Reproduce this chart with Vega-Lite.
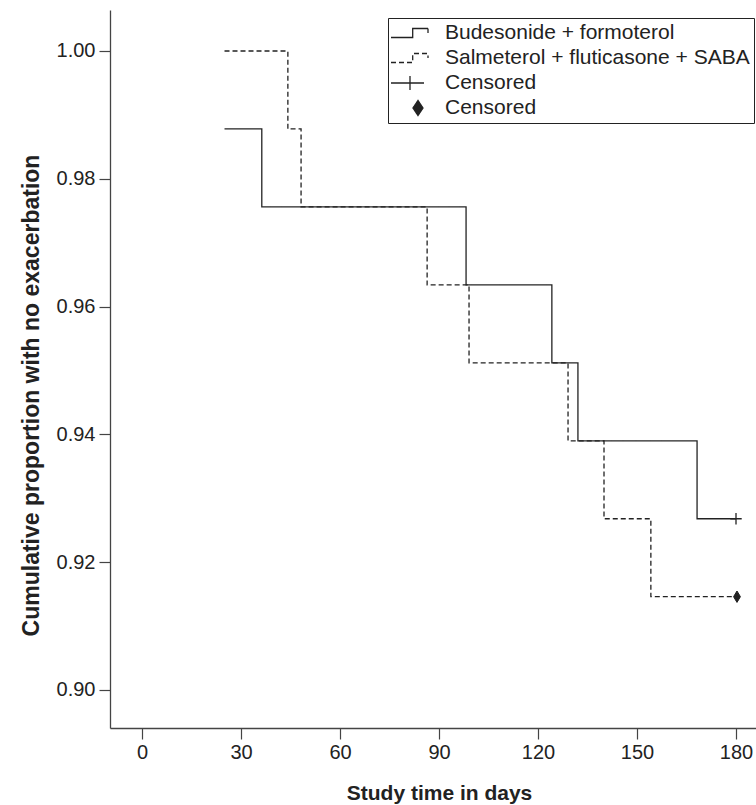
{
  "$schema": "https://vega.github.io/schema/vega-lite/v6.json",
  "width": 646,
  "height": 718,
  "autosize": {"type": "none"},
  "padding": {"left": 110, "top": 10, "right": 0, "bottom": 77},
  "background": "white",
  "datasets": {
    "km": [
      {"key": "Budesonide + formoterol", "day": 25, "surv": 0.9878},
      {"key": "Budesonide + formoterol", "day": 36.3, "surv": 0.9756},
      {"key": "Budesonide + formoterol", "day": 98.2, "surv": 0.9634},
      {"key": "Budesonide + formoterol", "day": 124.2, "surv": 0.9512},
      {"key": "Budesonide + formoterol", "day": 132.1, "surv": 0.939},
      {"key": "Budesonide + formoterol", "day": 168.2, "surv": 0.9268},
      {"key": "Budesonide + formoterol", "day": 180, "surv": 0.9268},
      {"key": "Salmeterol + fluticasone + SABA", "day": 25, "surv": 1.0},
      {"key": "Salmeterol + fluticasone + SABA", "day": 44.2, "surv": 0.9878},
      {"key": "Salmeterol + fluticasone + SABA", "day": 48.2, "surv": 0.9756},
      {"key": "Salmeterol + fluticasone + SABA", "day": 86.4, "surv": 0.9634},
      {"key": "Salmeterol + fluticasone + SABA", "day": 99.1, "surv": 0.9512},
      {"key": "Salmeterol + fluticasone + SABA", "day": 129.1, "surv": 0.939},
      {"key": "Salmeterol + fluticasone + SABA", "day": 140, "surv": 0.9268},
      {"key": "Salmeterol + fluticasone + SABA", "day": 154.2, "surv": 0.9146},
      {"key": "Salmeterol + fluticasone + SABA", "day": 180, "surv": 0.9146}
    ],
    "censor": [
      {"key": "Censored", "day": 180, "surv": 0.9268},
      {"key": "Censored ", "day": 180.3, "surv": 0.9146}
    ]
  },
  "config": {
    "view": {"stroke": null},
    "axis": {
      "grid": false,
      "domainColor": "#444",
      "domainWidth": 1.3,
      "tickColor": "#444",
      "tickWidth": 1.2,
      "tickSize": 11,
      "labelFont": "Liberation Sans",
      "labelFontSize": 20,
      "labelColor": "#222",
      "titleFont": "Liberation Sans",
      "titleFontSize": 21,
      "titleFontWeight": "bold",
      "titleColor": "#222"
    },
    "legend": {
      "strokeColor": "#222",
      "fillColor": "white",
      "padding": 4,
      "symbolSize": 400,
      "symbolStrokeWidth": 1.3,
      "symbolStrokeColor": "#222",
      "symbolOpacity": 1,
      "labelFont": "Liberation Sans",
      "labelFontSize": 21,
      "labelColor": "#222",
      "labelOffset": 31,
      "labelLimit": 0,
      "rowPadding": 4
    }
  },
  "layer": [
    {
      "data": {"name": "km"},
      "mark": {"type": "line", "interpolate": "step-after", "color": "#222", "strokeWidth": 1.3},
      "encoding": {
        "x": {
          "field": "day", "type": "quantitative",
          "scale": {"domain": [-9.7, 186.06], "nice": false, "zero": false},
          "axis": {"values": [0, 30, 60, 90, 120, 150, 180], "title": "Study time in days", "labelPadding": 3, "titlePadding": 20, "titleX": 329}
        },
        "y": {
          "field": "surv", "type": "quantitative",
          "scale": {"domain": [0.894053, 1.006416], "nice": false, "zero": false},
          "axis": {"values": [0.9, 0.92, 0.94, 0.96, 0.98, 1.0], "format": ".2f", "title": "Cumulative proportion with no exacerbation", "labelPadding": 4, "titlePadding": 13, "titleFontSize": 23, "titleY": 385}
        },
        "strokeDash": {
          "field": "key", "type": "nominal",
          "scale": {
            "domain": ["Budesonide + formoterol", "Salmeterol + fluticasone + SABA", "Censored", "Censored "],
            "range": [[1, 0], [5, 3], [1, 0], [1, 0]]
          },
          "legend": {"title": null, "orient": "none", "legendX": 278, "legendY": 8}
        },
        "detail": {"field": "key"}
      }
    },
    {
      "data": {"name": "censor"},
      "mark": {"type": "point", "opacity": 0, "strokeWidth": 1.3},
      "encoding": {
        "x": {"field": "day", "type": "quantitative"},
        "y": {"field": "surv", "type": "quantitative"},
        "shape": {
          "field": "key", "type": "nominal",
          "scale": {
            "domain": ["Budesonide + formoterol", "Salmeterol + fluticasone + SABA", "Censored", "Censored "],
            "range": ["M-1.2,0.45L0.97,0.45L0.97,-0.45L2.5,-0.45L2.5,0", "M-1.2,0.45L0.97,0.45L0.97,-0.45L2.5,-0.45L2.5,0", "M-1.2,0L2.1,0M0.7,-0.7L0.7,0.7", "M1.5,-0.75L2,0L1.5,0.75L1,0Z"]
          },
          "legend": {"title": null, "orient": "none", "legendX": 278, "legendY": 8}
        },
        "fill": {
          "field": "key", "type": "nominal",
          "scale": {
            "domain": ["Budesonide + formoterol", "Salmeterol + fluticasone + SABA", "Censored", "Censored "],
            "range": ["transparent", "transparent", "transparent", "#222"]
          },
          "legend": {"title": null, "orient": "none", "legendX": 278, "legendY": 8}
        },
        "stroke": {
          "field": "key", "type": "nominal",
          "scale": {
            "domain": ["Budesonide + formoterol", "Salmeterol + fluticasone + SABA", "Censored", "Censored "],
            "range": ["#222", "#222", "#222", "#222"]
          },
          "legend": {"title": null, "orient": "none", "legendX": 278, "legendY": 8}
        }
      }
    },
    {
      "data": {"name": "censor"},
      "transform": [{"filter": "datum.key === 'Censored'"}],
      "mark": {"type": "point", "shape": "M-1,0L1,0M0,-1L0,1", "size": 130, "filled": false, "stroke": "#222", "strokeWidth": 1.3, "opacity": 1},
      "encoding": {
        "x": {"field": "day", "type": "quantitative"},
        "y": {"field": "surv", "type": "quantitative"}
      }
    },
    {
      "data": {"name": "censor"},
      "transform": [{"filter": "datum.key === 'Censored '"}],
      "mark": {"type": "point", "shape": "M0,-1L0.6,0L0,1L-0.6,0Z", "size": 130, "filled": true, "color": "#222", "stroke": "#222", "strokeWidth": 1, "opacity": 1},
      "encoding": {
        "x": {"field": "day", "type": "quantitative"},
        "y": {"field": "surv", "type": "quantitative"}
      }
    }
  ]
}
